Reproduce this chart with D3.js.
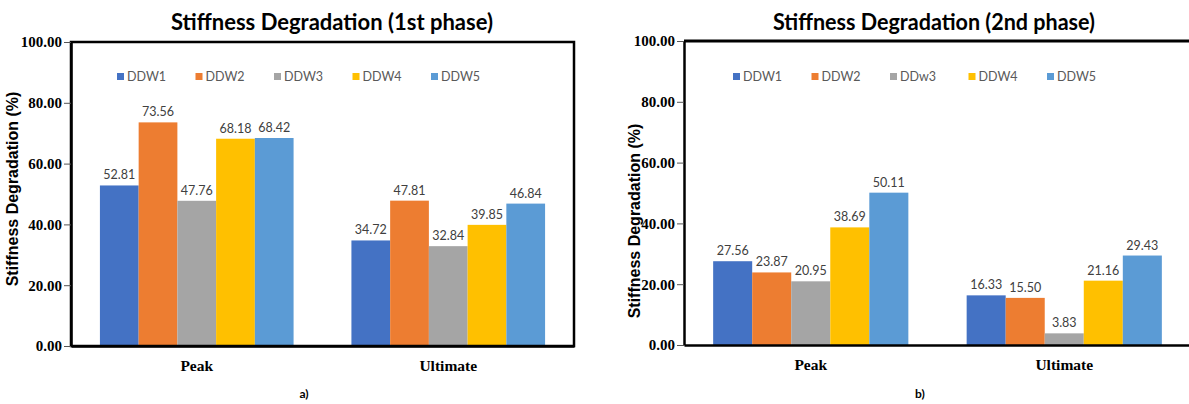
<!DOCTYPE html>
<html>
<head>
<meta charset="utf-8">
<script src="https://cdn.jsdelivr.net/npm/d3@7"></script>
<style>
  html, body { margin: 0; padding: 0; background: #fff; }
  svg { display: block; }
  .serif { font-family: "Liberation Serif", "DejaVu Serif", serif; font-weight: bold; }
  .calib { font-family: Lato, "Open Sans", sans-serif; }
  .arial { font-family: "Liberation Sans", Arial, sans-serif; font-weight: bold; }
</style>
</head>
<body>
<svg id="chart" width="1189" height="404"></svg>
<script>
// ---- data ----
const categories = ["Peak", "Ultimate"];
const seriesPhase1 = ["DDW1", "DDW2", "DDW3", "DDW4", "DDW5"];
const seriesPhase2 = ["DDW1", "DDW2", "DDw3", "DDW4", "DDW5"];
const phase1Peak = [52.81, 73.56, 47.76, 68.18, 68.42];
const phase1Ultimate = [34.72, 47.81, 32.84, 39.85, 46.84];
const phase2Peak = [27.56, 23.87, 20.95, 38.69, 50.11];
const phase2Ultimate = [16.33, 15.50, 3.83, 21.16, 29.43];
const yTicks = [0, 20, 40, 60, 80, 100];
const titles = ["Stiffness Degradation (1st phase)", "Stiffness Degradation (2nd phase)"];
const captions = ["a)", "b)"];
const yAxisTitle = "Stiffness Degradation (%)";
const colors = ["#4472C4", "#ED7D31", "#A5A5A5", "#FFC000", "#5B9BD5"];

const svg = d3.select("#chart");

const panels = [
  { series: seriesPhase1, values: [phase1Peak, phase1Ultimate], title: titles[0], caption: captions[0],
    left: 71, right: 574, top: 42, bottom: 346, titleX: 332, capX: 304, yTitleX: 12, yTitleY: 189,
    legendX: 117, fullBox: true },
  { series: seriesPhase2, values: [phase2Peak, phase2Ultimate], title: titles[1], caption: captions[1],
    left: 684, right: 1191, top: 41, bottom: 345, titleX: 934, capX: 920, yTitleX: 634, yTitleY: 221,
    legendX: 733, fullBox: false }
];

panels.forEach(p => {
  const g = svg.append("g");
  const x0 = d3.scaleBand().domain(categories).range([p.left, p.right]).paddingInner(0).paddingOuter(0);
  const groupFrac = 0.77;
  const pad = x0.bandwidth() * (1 - groupFrac) / 2;
  const x1 = d3.scaleBand().domain(p.series).range([pad, x0.bandwidth() - pad]).padding(0);
  const y = d3.scaleLinear().domain([0, 100]).range([p.bottom, p.top]);
  const color = d3.scaleOrdinal().domain(p.series).range(colors);

  // bars
  categories.forEach((c, ci) => {
    const gg = g.append("g").attr("transform", `translate(${x0(c)},0)`);
    const vals = p.values[ci];
    gg.selectAll("rect").data(vals).join("rect")
      .attr("x", (d, i) => x1(p.series[i]))
      .attr("y", d => y(d))
      .attr("width", x1.bandwidth())
      .attr("height", d => y(0) - y(d))
      .attr("fill", (d, i) => color(p.series[i]));
    gg.selectAll("text").data(vals).join("text")
      .attr("class", "calib")
      .attr("x", (d, i) => x1(p.series[i]) + x1.bandwidth() / 2)
      .attr("y", d => y(d) - 6)
      .attr("text-anchor", "middle")
      .style("font-size", "12.5px")
      .attr("fill", "#404040")
      .text(d => d3.format(".2f")(d));
  });

  // frame
  if (p.fullBox) {
    g.append("rect").attr("x", p.left).attr("y", p.top)
      .attr("width", p.right - p.left).attr("height", p.bottom - p.top)
      .attr("fill", "none").attr("stroke", "#000").attr("stroke-width", 2.5);
  } else {
    g.append("line").attr("x1", p.left).attr("x2", p.right).attr("y1", p.top).attr("y2", p.top)
      .attr("stroke", "#000").attr("stroke-width", 3);
  }

  // y axis
  const yAxis = g.append("g").attr("transform", `translate(${p.left},0)`)
    .call(d3.axisLeft(y).tickValues(yTicks).tickFormat(d3.format(".2f")).tickSize(7).tickSizeOuter(0).tickPadding(2));
  yAxis.attr("font-family", null).attr("font-size", null);
  yAxis.select(".domain").attr("stroke", "#000").attr("stroke-width", 2.5);
  yAxis.selectAll(".tick line").attr("stroke", "#555").attr("stroke-width", 1);
  yAxis.selectAll(".tick text").attr("class", "serif")
    .style("font-size", "15px").attr("fill", "#000");

  // x axis
  const xAxis = g.append("g").attr("transform", `translate(0,${p.bottom})`)
    .call(d3.axisBottom(x0).tickSize(0).tickSizeOuter(0).tickPadding(14));
  xAxis.attr("font-family", null).attr("font-size", null);
  xAxis.select(".domain").attr("stroke", "#000").attr("stroke-width", 2.5);
  xAxis.selectAll(".tick text").attr("class", "serif")
    .style("font-size", "15.5px").attr("fill", "#000");

  // title
  g.append("text").attr("class", "calib").attr("x", p.titleX).attr("y", 30).attr("text-anchor", "middle")
    .style("font-weight", "bold").style("font-size", "22px").attr("fill", "#000")
    .attr("textLength", 322).attr("lengthAdjust", "spacingAndGlyphs")
    .text(p.title);

  // y-axis title
  g.append("text").attr("class", "arial")
    .attr("transform", `translate(${p.yTitleX + 6},${p.yTitleY}) rotate(-90)`)
    .attr("text-anchor", "middle")
    .style("font-size", "16px").attr("fill", "#000")
    .text(yAxisTitle);

  // legend
  const lg = g.append("g").attr("transform", `translate(${p.legendX},77)`);
  p.series.forEach((s, i) => {
    const it = lg.append("g").attr("transform", `translate(${i * 78.5},0)`);
    it.append("rect").attr("x", 0).attr("y", -4).attr("width", 7).attr("height", 7).attr("fill", color(s));
    it.append("text").attr("class", "calib").attr("x", 10).attr("y", 4)
      .style("font-size", "12.5px").attr("fill", "#595959").text(s);
  });

  // caption
  g.append("text").attr("class", "calib").attr("x", p.capX).attr("y", 398).attr("text-anchor", "middle")
    .style("font-size", "12px").style("font-weight", "bold").attr("fill", "#000").text(p.caption);
});
</script>
</body>
</html>
